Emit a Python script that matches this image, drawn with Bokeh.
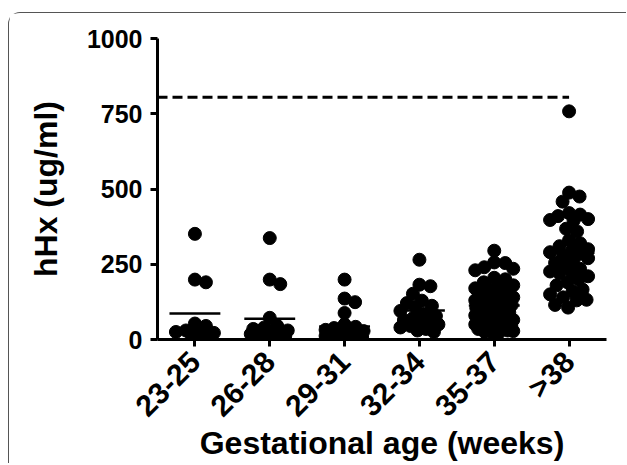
import math
from bokeh.plotting import figure
from bokeh.models import Range1d, FixedTicker
from bokeh.embed import file_html
from bokeh.resources import INLINE

# ---------------- data ----------------
categories = ["23-25", "26-28", "29-31", "32-34", "35-37", ">38"]

g_23_25 = [351, 199, 190, 53, 45, 30, 25, 22, 20, 18, 15]
g_26_28 = [337, 199, 184, 72, 45, 40, 35, 30, 28, 25, 22, 20, 18, 15, 12]
g_29_31 = [199, 136, 124, 88, 50, 42, 38, 32, 28, 25, 22, 18, 15, 12, 10, 8, 6, 5, 5]
g_32_34 = [265, 182, 177, 152, 129, 121, 112, 108, 95, 85, 78, 72, 65, 60,
           55, 50, 45, 40, 35, 30, 25]
g_35_37 = [295, 256, 254, 240, 235, 230, 205, 200, 190, 180, 176, 170, 165, 160,
           150, 145, 140, 135, 130, 125, 120, 118, 115, 110, 105, 100, 95, 90,
           85, 80, 75, 70, 65, 60, 55, 50, 45, 40, 35, 30, 28, 25, 22, 20,
           60, 55, 50, 45, 40, 35]
g_gt_38 = [758, 488, 475, 458, 420, 415, 410, 400, 397, 395, 368, 359, 330, 320,
           310, 300, 295, 290, 285, 280, 270, 265, 255, 245, 235, 226, 225, 220,
           210, 200, 190, 180, 166, 160, 150, 140, 132, 130, 115, 106]
groups = [g_23_25, g_26_28, g_29_31, g_32_34, g_35_37, g_gt_38]

group_means = [86, 69, 43, 96, 113, 288]
threshold = 805
y_ticks = [0, 250, 500, 750, 1000]

# ---------------- layout constants ----------------
W, H = 618, 451
BL, BR, BT, BB = 148, 21, 25, 124
frame_w = W - BL - BR
frame_h = H - BT - BB
px_per_cat = frame_w / len(categories)
px_per_val = frame_h / 1000.0
DOT = 13
MAX_OFF = 19.0


def swarm(vals, d=11.0, step=0.5):
    """Deterministic bee-swarm offsets (pixels), limited in width."""
    placed = []
    offs = [0.0] * len(vals)
    order = sorted(range(len(vals)), key=lambda i: -vals[i])
    n = int(MAX_OFF / step)
    cands = [0.0]
    for k in range(1, n + 1):
        cands += [k * step, -k * step]
    for i in order:
        y = vals[i] * px_per_val
        best, best_score = 0.0, -1.0
        for off in cands:
            md = min([math.hypot(off - px, y - py) for px, py in placed] + [d])
            if md >= d:
                best = off
                break
            if md > best_score + 1e-9:
                best, best_score = off, md
        placed.append((best, y))
        offs[i] = best
    return offs


xs, ys = [], []
for gi, vals in enumerate(groups):
    offs = swarm(vals)
    for v, o in zip(vals, offs):
        xs.append(gi + 0.5 + o / px_per_cat)
        ys.append(v)

p = figure(width=W, height=H, output_backend="svg", toolbar_location=None,
           x_range=Range1d(0, len(categories)), y_range=Range1d(0, 1000),
           min_border_left=BL, min_border_right=BR, min_border_top=BT,
           min_border_bottom=BB)
p.outline_line_color = None
p.grid.visible = False
p.background_fill_color = "white"
p.border_fill_color = "white"
p.styles = {"border-top": "1.5px solid #555555",
            "border-left": "1.5px solid #555555",
            "border-top-left-radius": "12px",
            "margin-top": "12px",
            "margin-left": "8px"}

# threshold dashed line
p.segment(x0=[0], x1=[len(categories) - 0.5], y0=[threshold], y1=[threshold],
          line_color="black", line_width=3, line_dash="10 5")

# dots
p.scatter(xs, ys, size=DOT, color="black", line_color="black")

# mean lines
half = 0.34
p.segment(x0=[i + 0.5 - half for i in range(len(categories))],
          x1=[i + 0.5 + half for i in range(len(categories))],
          y0=group_means, y1=group_means, line_color="black", line_width=2.5)

font = "Liberation Sans"
for ax in (p.xaxis[0], p.yaxis[0]):
    ax.axis_line_width = 3
    ax.major_tick_line_width = 3
    ax.major_tick_out = 7
    ax.major_tick_in = 0
    ax.minor_tick_line_color = None
    ax.major_label_text_font = font
    ax.major_label_text_font_style = "bold"
    ax.major_label_text_color = "black"
    ax.axis_label_text_font = font
    ax.axis_label_text_font_style = "bold"
    ax.axis_label_text_color = "black"

p.xaxis.ticker = FixedTicker(ticks=[i + 0.5 for i in range(len(categories))])
p.xaxis.major_label_overrides = {i + 0.5: c for i, c in enumerate(categories)}
p.xaxis.major_label_orientation = math.pi / 4
p.xaxis.major_label_text_font_size = "30px"
p.xaxis.major_label_standoff = 10
p.xaxis.axis_label = "Gestational age (weeks)"
p.xaxis.axis_label_text_font_size = "32px"
p.xaxis.axis_label_text_line_height = 0.9
p.xaxis.axis_label_standoff = -12

p.yaxis.ticker = FixedTicker(ticks=y_ticks)
p.yaxis.major_label_text_font_size = "25px"
p.yaxis.axis_label = "hHx (ug/ml)"
p.yaxis.axis_label_text_font_size = "32px"
p.yaxis.axis_label_standoff = 20
p.yaxis.major_label_standoff = 8

open("out.html", "w").write(file_html(p, INLINE))
